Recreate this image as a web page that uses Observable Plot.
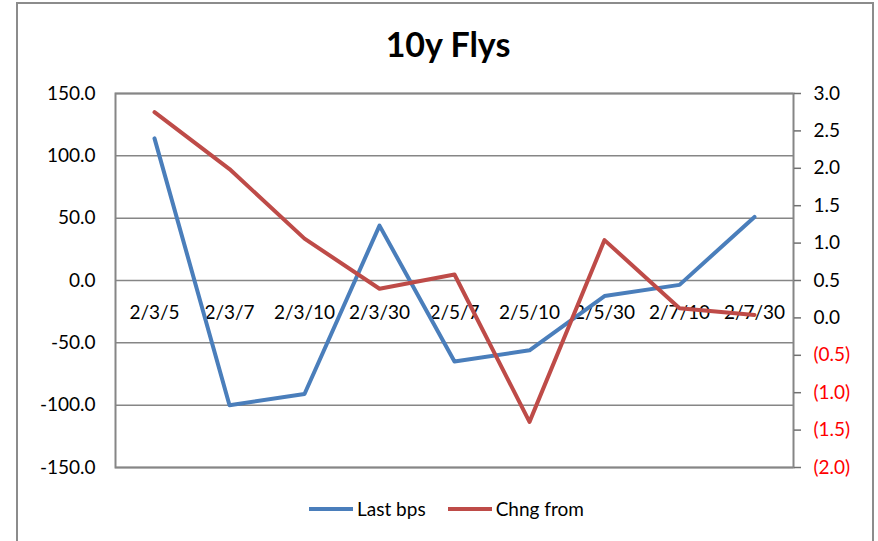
<!DOCTYPE html>
<html>
<head>
<meta charset="utf-8">
<script src="https://cdn.jsdelivr.net/npm/d3@7"></script>
<script src="https://cdn.jsdelivr.net/npm/@observablehq/plot@0.6"></script>
<style>
  html, body { margin: 0; padding: 0; background: #fff; }
  #wrap { position: relative; width: 878px; height: 541px; overflow: hidden; font-family: Lato, "Open Sans", sans-serif; }
  #border { position: absolute; left: 16px; top: 2px; width: 858px; height: 600px; border: 2px solid #8c8c8c; box-sizing: border-box; }
  #title { position: absolute; left: 0; width: 896px; top: 23px; text-align: center; font-weight: bold; font-size: 34px; color: #000; }
  #legend { position: absolute; top: 497px; left: 309px; font-size: 19px; color: #000; display: flex; align-items: center; }
  .sw { display: inline-block; width: 44px; height: 4px; margin-right: 4px; }
  #chart { position: absolute; left: 0; top: 0; }
</style>
</head>
<body>
<div id="wrap">
  <div id="border"></div>
  <div id="chart"></div>
  <div id="title">10y Flys</div>
  <div id="legend">
    <span class="sw" style="background:#4A7EBB"></span><span>Last bps</span>
    <span class="sw" style="background:#BE4B48; margin-left:22px"></span><span>Chng from</span>
  </div>
</div>
<script>
const categories = ["2/3/5", "2/3/7", "2/3/10", "2/3/30", "2/5/7", "2/5/10", "2/5/30", "2/7/10", "2/7/30"];
const lastBps = [114, -100, -91, 44, -65, -56, -12.5, -3.5, 51];
const chngFrom = [2.75, 1.99, 1.06, 0.39, 0.58, -1.39, 1.04, 0.13, 0.04];
const leftTicks = [-150, -100, -50, 0, 50, 100, 150];
const rightTicks = [-2.0, -1.5, -1.0, -0.5, 0.0, 0.5, 1.0, 1.5, 2.0, 2.5, 3.0];

// secondary axis (-2..3) mapped onto primary (-150..150)
const toLeft = r => -150 + (r + 2) * 60;
const fromLeft = l => (l + 150) / 60 - 2;
const fmtRight = r => r < 0 ? "(" + Math.abs(r).toFixed(1) + ")" : r.toFixed(1);

const blue = categories.map((c, i) => ({cat: c, v: lastBps[i]}));
const red = categories.map((c, i) => ({cat: c, v: toLeft(chngFrom[i])}));
const gray = "#868686";

const chart = Plot.plot({
  width: 878,
  height: 541,
  marginLeft: 115,
  marginRight: 85,
  marginTop: 93,
  marginBottom: 74,
  style: {fontFamily: "Lato, 'Open Sans', sans-serif", fontSize: "19px", background: "transparent"},
  x: {type: "point", domain: categories, padding: 0.5, axis: null},
  y: {domain: [-150, 150], axis: null},
  marks: [
    Plot.ruleY(leftTicks, {stroke: gray, strokeWidth: 1.5}),
    Plot.frame({stroke: gray, strokeWidth: 2}),
    Plot.axisY(leftTicks, {anchor: "left", label: null, tickSize: 0, tickPadding: 20, tickFormat: d => d.toFixed(1), fill: "#000", fontSize: 19}),
    Plot.axisY(rightTicks.filter(r => r >= 0).map(toLeft), {anchor: "right", label: null, tickSize: 7, tickPadding: 13, stroke: "#707070", strokeWidth: 1.5, tickFormat: d => fmtRight(fromLeft(d)), fill: "#000", fontSize: 19}),
    Plot.axisY(rightTicks.filter(r => r < 0).map(toLeft), {anchor: "right", label: null, tickSize: 7, tickPadding: 13, stroke: "#707070", strokeWidth: 1.5, tickFormat: d => fmtRight(fromLeft(d)), fill: "#ff0000", fontSize: 19}),
    Plot.text(categories, {x: d => d, y: () => 0, dy: 32, fill: "#000", fontSize: 19, text: d => d}),
    Plot.line(blue, {x: "cat", y: "v", stroke: "#4A7EBB", strokeWidth: 4}),
    Plot.line(red, {x: "cat", y: "v", stroke: "#BE4B48", strokeWidth: 4})
  ]
});
document.getElementById("chart").appendChild(chart);
</script>
</body>
</html>
